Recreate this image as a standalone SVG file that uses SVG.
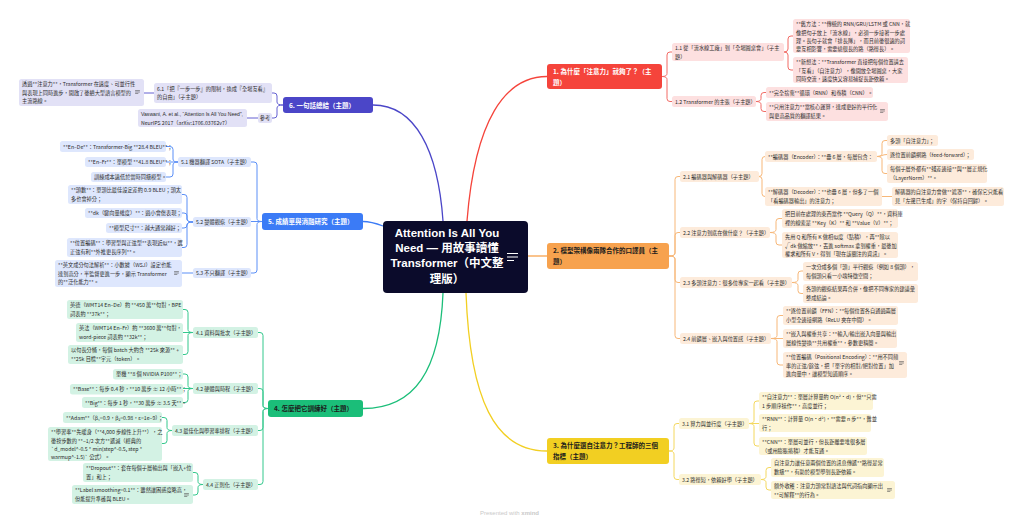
<svg xmlns="http://www.w3.org/2000/svg" width="1024" height="524" viewBox="0 0 1024 524">
<style>
.t{font-family:"Noto Sans CJK TC","Noto Sans",sans-serif;font-size:5.2px;fill:#2b2b2b}
.tl{font-family:"Liberation Sans","Noto Sans CJK TC",sans-serif;font-size:5.2px;fill:#2b2b2b}
.mt{font-family:"Noto Sans CJK TC","Noto Sans",sans-serif;font-size:6.5px;font-weight:700}
.ct{font-family:"Liberation Sans","Noto Sans CJK TC",sans-serif;font-size:11.5px;font-weight:600;fill:#fff;text-anchor:middle}
.w{fill:#fff}.d{fill:#1c1c1c}
.m1{fill:#F5443B}.m2{fill:#F7A24E}.m3{fill:#F2CF22}.m4{fill:#1BBE79}.m5{fill:#3B7BF6}.m6{fill:#4B46C8}
.b1{fill:#FDE0E0}.b2{fill:#FDEBDB}.b3{fill:#FCF4D4}.b4{fill:#D3F2E4}.b5{fill:#DEE7FD}.b6{fill:#E2E1F6}
.c{fill:none;stroke-width:1}
.c1{stroke:#F26B65}.c2{stroke:#F7B778}.c3{stroke:#F4D85E}.c4{stroke:#33C88C}.c5{stroke:#5B8FF7}.c6{stroke:#6461D2}
.mc{fill:none;stroke-width:1.3}
.foot{font-family:"Liberation Sans",sans-serif;font-size:6px;fill:#c9c9c9}
</style>
<defs>
<symbol id="note" viewBox="0 0 6 5"><path d="M0 0.5H6M0 2.5H6M0 4.5H4" stroke="#555" stroke-width="0.8" fill="none"/></symbol>
</defs>
<rect width="1024" height="524" fill="#fff"/>

<g id="connectors">
<path class="mc" stroke="#F5443B" d="M467,221 C475,120 505,76.5 547,76.5"/>
<path class="mc" stroke="#F7A24E" d="M528,256 H547"/>
<path class="mc" stroke="#F2CF22" d="M466,293 C470,400 495,451 547,451"/>
<path class="mc" stroke="#1BBE79" d="M443,293 C440,370 415,408.5 363,408.5"/>
<path class="mc" stroke="#3B7BF6" d="M383,226 C375,223 370,221.5 363,221.5"/>
<path class="mc" stroke="#4B46C8" d="M443,221 C438,150 415,105 373,105"/>

<g class="c c1">
<path d="M662,76.5 Q667,76.5 667,73.5 V55 Q667,52 670,52 H672"/>
<path d="M662,76.5 Q667,76.5 667,79.5 V98.5 Q667,101.5 670,101.5 H672"/>
<path d="M784,52 Q788,52 788,49 V39 Q788,36 791,36 H793"/>
<path d="M784,52 Q788,52 788,55 V67 Q788,70 791,70 H793"/>
<path d="M756,101.5 Q761,101.5 761,98.5 V95.5 Q761,92.5 764,92.5 H766"/>
<path d="M756,101.5 Q761,101.5 761,104.5 V108.5 Q761,111.5 764,111.5 H766"/>
</g>
<g class="c c2">
<path d="M669,256 Q675,256 675,253 V179.5 Q675,176.5 678,176.5 H680"/>
<path d="M669,256 Q675,256 675,253 V235.5 Q675,232.5 678,232.5 H680"/>
<path d="M669,256 Q675,256 675,259 V279.5 Q675,282.5 678,282.5 H680"/>
<path d="M669,256 Q675,256 675,259 V335.5 Q675,338.5 678,338.5 H680"/>
<path d="M759,176.5 Q762,176.5 762,173.5 V159.5 Q762,156.5 765,156.5"/>
<path d="M759,176.5 Q762,176.5 762,179.5 V193.5 Q762,196.5 765,196.5"/>
<path d="M877,156.5 Q882,156.5 882,153.5 V143.5 Q882,140.5 885,140.5 H887"/>
<path d="M877,156.5 C882,156.5 882,154.5 887,154.5"/>
<path d="M877,156.5 Q882,156.5 882,159.5 V170.5 Q882,173.5 885,173.5 H887"/>
<path d="M882,196.5 H892"/>
<path d="M770,232.5 Q776,232.5 776,229.5 V221.5 Q776,218.5 779,218.5 H782"/>
<path d="M770,232.5 Q776,232.5 776,235.5 V242 Q776,245 779,245 H782"/>
<path d="M792,282.5 Q798,282.5 798,279.5 V274 Q798,271 801,271 H803"/>
<path d="M792,282.5 Q798,282.5 798,285.5 V290.5 Q798,293.5 801,293.5 H803"/>
<path d="M771,338.5 Q777,338.5 777,335.5 V318.5 Q777,315.5 780,315.5 H783"/>
<path d="M771,338.5 H783"/>
<path d="M771,338.5 Q777,338.5 777,341.5 V362 Q777,365 780,365 H783"/>
</g>
<g class="c c3">
<path d="M669,451 Q674,451 674,448 V426.5 Q674,423.5 677,423.5 H679"/>
<path d="M669,451 Q674,451 674,454 V476.5 Q674,479.5 677,479.5 H679"/>
<path d="M749,423.5 Q754,423.5 754,420.5 V404 Q754,401 757,401 H759"/>
<path d="M749,423.5 H759"/>
<path d="M749,423.5 Q754,423.5 754,426.5 V443 Q754,446 757,446 H759"/>
<path d="M761,479.5 Q766,479.5 766,476.5 V470.5 Q766,467.5 769,467.5 H771"/>
<path d="M761,479.5 Q766,479.5 766,482.5 V487 Q766,490 769,490 H771"/>
</g>
<g class="c c4">
<path d="M268,408.5 Q263,408.5 263,405.5 V335.5 Q263,332.5 260,332.5 H258"/>
<path d="M268,408.5 Q263,408.5 263,405.5 V391.5 Q263,388.5 260,388.5 H258"/>
<path d="M268,408.5 Q263,408.5 263,411.5 V427.5 Q263,430.5 260,430.5 H258"/>
<path d="M268,408.5 Q263,408.5 263,411.5 V481.5 Q263,484.5 260,484.5 H258"/>
<path d="M193,332.5 Q188,332.5 188,329.5 V312.5 Q188,309.5 185,309.5 H183"/>
<path d="M193,332.5 H183"/>
<path d="M193,332.5 Q188,332.5 188,335.5 V351.5 Q188,354.5 185,354.5 H183"/>
<path d="M193,388.5 Q188,388.5 188,385.5 V377 Q188,374 185,374 H183"/>
<path d="M193,388.5 H183"/>
<path d="M193,388.5 Q188,388.5 188,391.5 V399.5 Q188,402.5 185,402.5 H183"/>
<path d="M172,430.5 Q167,430.5 167,427.5 V420.5 Q167,417.5 164,417.5 H162"/>
<path d="M172,430.5 Q167,430.5 167,433.5 V440.5 Q167,443.5 164,443.5 H162"/>
<path d="M203,484.5 Q198,484.5 198,481.5 V475.5 Q198,472.5 195,472.5 H193"/>
<path d="M203,484.5 Q198,484.5 198,487.5 V492 Q198,495 195,495 H193"/>
</g>
<g class="c c5">
<path d="M262,221.5 Q257,221.5 257,218.5 V165 Q257,162 254,162 H251"/>
<path d="M262,221.5 H251"/>
<path d="M262,221.5 Q257,221.5 257,224.5 V270 Q257,273 254,273 H251"/>
<path d="M178,162 Q173,162 173,159 V149.5 Q173,146.5 170,146.5 H166"/>
<path d="M178,162 H166"/>
<path d="M178,162 Q173,162 173,165 V174 Q173,177 170,177 H166"/>
<path d="M193,222 Q187,222 187,219 V197.5 Q187,194.5 184,194.5 H182"/>
<path d="M193,222 Q187,222 187,219 V216 Q187,213 184,213 H182"/>
<path d="M193,222 Q187,222 187,225 Q187,228 184,228 H182"/>
<path d="M193,222 Q187,222 187,225 V244.5 Q187,247.5 184,247.5 H182"/>
<path d="M193,273 H182"/>
</g>
<g class="c c6">
<path d="M283,105 Q277,105 277,102 V96 Q277,93 274,93 H272"/>
<path d="M283,105 Q277,105 277,108 V115 Q277,118 274,118 H272"/>
<path d="M154,93 H144"/>
<path d="M258,118 H247"/>
</g>
</g>

<g id="central">
<rect x="383" y="221" width="145" height="72" rx="4" fill="#0B0B2B"/>
<text class="ct" x="447" y="237">Attention Is All You</text>
<text class="ct" x="447" y="252">Need — 用故事讀懂</text>
<text class="ct" x="447" y="267">Transformer（中文整</text>
<text class="ct" x="447" y="282.5">理版）</text>
<path d="M507,253.5H518M507,257H518M507,260.5H514" stroke="#fff" stroke-width="1.1" fill="none"/>
</g>

<!-- Section 1 -->
<g id="n1"><rect class="m1" x="547" y="64" width="115" height="25" rx="3"/>
<text class="mt w" x="553" y="74">1. 為什麼「注意力」就夠了？（主<tspan x="553" dy="10.5">題）</tspan></text></g>
<g id="n1-1"><rect class="b1" x="672" y="43" width="112" height="18" rx="2.5"/>
<text class="t" x="675" y="50.3">1.1 從「流水線工廠」到「全場圓桌會」（子主<tspan x="675" dy="8.2">題）</tspan></text></g>
<g id="n1-1a"><rect class="b1" x="793" y="19" width="117" height="34" rx="2.5"/>
<text class="t" x="796" y="26.3">**舊方法：**傳統的 RNN/GRU/LSTM 或 CNN，就<tspan x="796" dy="8.2">像把句子放上「流水線」，必須一步接著一步處</tspan><tspan x="796" dy="8.2">理。長句子就會「排長隊」，而且前後很遠的詞</tspan><tspan x="796" dy="8.2">要互相影響，需要繞很長的路（路徑長）。</tspan></text></g>
<g id="n1-1b"><rect class="b1" x="793" y="57" width="115" height="26" rx="2.5"/>
<text class="t" x="796" y="64.3">**新想法：**Transformer 直接把每個位置請去<tspan x="796" dy="8.2">「互看」（自注意力），像開放全場圓桌，大家</tspan><tspan x="796" dy="8.2">同時交流，速度快又容易捕捉長距依賴。</tspan></text></g>
<g id="n1-2"><rect class="b1" x="672" y="96" width="84" height="11" rx="2.5"/>
<text class="t" x="675" y="103.5">1.2 Transformer 的主張（子主題）</text></g>
<g id="n1-2a"><rect class="b1" x="766" y="87" width="107" height="11" rx="2.5"/>
<text class="t" x="769" y="94.5">**完全捨棄**循環（RNN）和卷積（CNN）。</text></g>
<g id="n1-2b"><rect class="b1" x="766" y="102" width="122" height="19" rx="2.5"/>
<text class="t" x="769" y="109.3">**只用注意力**當核心運算，達成更好的平行化<tspan x="769" dy="8.2">與更高品質的翻譯結果。</tspan></text>
<use href="#note" x="880" y="109" width="5" height="4"/></g>

<!-- Section 2 -->
<g id="n2"><rect class="m2" x="547" y="243" width="122" height="26" rx="3"/>
<text class="mt d" x="553" y="253">2. 模型架構像兩隊合作的口譯員（主<tspan x="553" dy="10.5">題）</tspan></text></g>
<g id="n2-1"><rect class="b2" x="680" y="171" width="79" height="11" rx="2.5"/>
<text class="t" x="683" y="178.5">2.1 編碼器與解碼器（子主題）</text></g>
<g id="n2-1a"><rect class="b2" x="765" y="151" width="112" height="11" rx="2.5"/>
<text class="t" x="768" y="158.5">**編碼器（Encoder）：**疊 6 層，每層包含：</text></g>
<g id="n2-1a1"><rect class="b2" x="887" y="135" width="51" height="11" rx="2.5"/>
<text class="t" x="890" y="142.5">多頭「自注意力」；</text></g>
<g id="n2-1a2"><rect class="b2" x="887" y="149" width="87" height="11" rx="2.5"/>
<text class="t" x="890" y="156.5">逐位置前饋網路（feed-forward）；</text></g>
<g id="n2-1a3"><rect class="b2" x="887" y="164" width="100" height="19" rx="2.5"/>
<text class="t" x="890" y="171.3">每個子層外都有**殘差連接**與**層正規化<tspan x="890" dy="8.2">（LayerNorm）**。</tspan></text></g>
<g id="n2-1b"><rect class="b2" x="765" y="187" width="117" height="19" rx="2.5"/>
<text class="t" x="768" y="194.3">**解碼器（Decoder）：**也疊 6 層，但多了一個<tspan x="768" dy="8.2">「看編碼器輸出」的注意力；</tspan></text></g>
<g id="n2-1b1"><rect class="b2" x="892" y="187" width="112" height="19" rx="2.5"/>
<text class="t" x="895" y="194.3">解碼器的自注意力會做**遮罩**，確保它只能看<tspan x="895" dy="8.2">見「左邊已生成」的字（保持自回歸）。</tspan></text></g>
<g id="n2-2"><rect class="b2" x="680" y="227" width="90" height="11" rx="2.5"/>
<text class="t" x="683" y="234.5">2.2 注意力到底在做什麼？（子主題）</text></g>
<g id="n2-2a"><rect class="b2" x="782" y="209" width="116" height="19" rx="2.5"/>
<text class="t" x="785" y="216.3">把目前在處理的東西當作 **Query（Q）**，資料庫<tspan x="785" dy="8.2">裡的線索是 **Key（K）** 和 **Value（V）**；</tspan></text></g>
<g id="n2-2b"><rect class="b2" x="782" y="232" width="116" height="26" rx="2.5"/>
<text class="t" x="785" y="239.3">先用 Q 和所有 K 做相似度（點積），再**除以<tspan x="785" dy="8.2">√dk 做縮放**，丟進 softmax 拿到權重，最後加</tspan><tspan x="785" dy="8.2">權求和所有 V，得到「現在該關注的資訊」。</tspan></text></g>
<g id="n2-3"><rect class="b2" x="680" y="277" width="112" height="11" rx="2.5"/>
<text class="t" x="683" y="284.5">2.3 多頭注意力：很多位專家一起看（子主題）</text></g>
<g id="n2-3a"><rect class="b2" x="803" y="262" width="115" height="19" rx="2.5"/>
<text class="t" x="806" y="269.3">一次分成多個「頭」平行觀察（例如 8 個頭），<tspan x="806" dy="8.2">每個頭只看一小塊特徵空間；</tspan></text></g>
<g id="n2-3b"><rect class="b2" x="803" y="284" width="115" height="19" rx="2.5"/>
<text class="t" x="806" y="291.3">各頭的觀察結果再合併，像把不同專家的建議彙<tspan x="806" dy="8.2">整成結論。</tspan></text></g>
<g id="n2-4"><rect class="b2" x="680" y="333" width="91" height="11" rx="2.5"/>
<text class="t" x="683" y="340.5">2.4 前饋層、嵌入與位置感（子主題）</text></g>
<g id="n2-4a"><rect class="b2" x="783" y="306" width="115" height="19" rx="2.5"/>
<text class="t" x="786" y="313.3">**逐位置前饋（FFN）：**每個位置各自通過兩層<tspan x="786" dy="8.2">小型全連接網路（ReLU 夾在中間）。</tspan></text></g>
<g id="n2-4b"><rect class="b2" x="783" y="329" width="114" height="19" rx="2.5"/>
<text class="t" x="786" y="336.3">**嵌入與權重共享：**輸入/輸出嵌入向量與輸出<tspan x="786" dy="8.2">層線性變換**共用權重**，參數更精簡。</tspan></text></g>
<g id="n2-4c"><rect class="b2" x="783" y="352" width="124" height="26" rx="2.5"/>
<text class="t" x="786" y="359.3">**位置編碼（Positional Encoding）：**用不同頻<tspan x="786" dy="8.2">率的正弦/餘弦，把「單字的相對/絕對位置」加</tspan><tspan x="786" dy="8.2">進向量中，讓模型知道順序。</tspan></text>
<use href="#note" x="899" y="361" width="5" height="4"/></g>

<!-- Section 3 -->
<g id="n3"><rect class="m3" x="547" y="438" width="122" height="26" rx="3"/>
<text class="mt d" x="553" y="448">3. 為什麼選自注意力？工程師的三個<tspan x="553" dy="10.5">指標（主題）</tspan></text></g>
<g id="n3-1"><rect class="b3" x="679" y="418" width="70" height="11" rx="2.5"/>
<text class="t" x="682" y="425.5">3.1 算力與並行度（子主題）</text></g>
<g id="n3-1a"><rect class="b3" x="759" y="392" width="114" height="18" rx="2.5"/>
<text class="t" x="762" y="399.3">**自注意力**：單層計算量約 O(n²·d)，但**只需<tspan x="762" dy="8.2">1 步順序操作**，高度並行；</tspan></text></g>
<g id="n3-1b"><rect class="b3" x="759" y="414" width="112" height="18" rx="2.5"/>
<text class="t" x="762" y="421.3">**RNN**：計算量 O(n·d²)，**需要 n 步**，難並<tspan x="762" dy="8.2">行；</tspan></text></g>
<g id="n3-1c"><rect class="b3" x="759" y="437" width="108" height="18" rx="2.5"/>
<text class="t" x="762" y="444.3">**CNN**：單層可並行，但長距離要堆很多層<tspan x="762" dy="8.2">（或用膨脹捲積）才能互通。</tspan></text></g>
<g id="n3-2"><rect class="b3" x="679" y="474" width="82" height="11" rx="2.5"/>
<text class="t" x="682" y="481.5">3.2 路徑短，依賴好學（子主題）</text></g>
<g id="n3-2a"><rect class="b3" x="771" y="458" width="113" height="19" rx="2.5"/>
<text class="t" x="774" y="465.3">自注意力讓任意兩個位置的訊息傳遞**路徑是常<tspan x="774" dy="8.2">數級**，有助於模型學到長距依賴。</tspan></text></g>
<g id="n3-2b"><rect class="b3" x="771" y="481" width="124" height="18" rx="2.5"/>
<text class="t" x="774" y="488.3">額外收穫：注意力頭常對語法與代詞指向顯示出<tspan x="774" dy="8.2">**可解釋**的行為。</tspan></text>
<use href="#note" x="887" y="488" width="5" height="4"/></g>

<!-- Section 4 -->
<g id="n4"><rect class="m4" x="268" y="400" width="95" height="17" rx="3"/>
<text class="mt d" x="274" y="411">4. 怎麼把它訓練好（主題）</text></g>
<g id="n4-1"><rect class="b4" x="193" y="327" width="65" height="11" rx="2.5"/>
<text class="t" x="196" y="334.5">4.1 資料與批次（子主題）</text></g>
<g id="n4-1a"><rect class="b4" x="67" y="300" width="116" height="19" rx="2.5"/>
<text class="t" x="70" y="307.3">英德（WMT14 En–De）約 **450 萬**句對，BPE<tspan x="70" dy="8.2">詞表約 **37k**；</tspan></text></g>
<g id="n4-1b"><rect class="b4" x="76" y="323" width="107" height="19" rx="2.5"/>
<text class="t" x="79" y="330.3">英法（WMT14 En–Fr）約 **3600 萬**句對，<tspan x="79" dy="8.2">word-piece 詞表約 **32k**；</tspan></text></g>
<g id="n4-1c"><rect class="b4" x="68" y="345" width="115" height="19" rx="2.5"/>
<text class="t" x="71" y="352.3">以句長分桶，每個 batch 大約含 **25k 來源** +<tspan x="71" dy="8.2">**25k 目標**字元（token）。</tspan></text></g>
<g id="n4-2"><rect class="b4" x="193" y="383" width="65" height="11" rx="2.5"/>
<text class="t" x="196" y="390.5">4.2 硬體與時程（子主題）</text></g>
<g id="n4-2a"><rect class="b4" x="113" y="369" width="70" height="10.5" rx="2.5"/>
<text class="t" x="116" y="376.2">單機 **8 個 NVIDIA P100**；</text></g>
<g id="n4-2b"><rect class="b4" x="70" y="384" width="113" height="10.5" rx="2.5"/>
<text class="t" x="73" y="391.2">**Base**：每步 0.4 秒，**10 萬步 ≈ 12 小時**；</text></g>
<g id="n4-2c"><rect class="b4" x="82" y="397" width="101" height="11" rx="2.5"/>
<text class="t" x="85" y="404.5">**Big**：每步 1 秒，**30 萬步 ≈ 3.5 天**。</text></g>
<g id="n4-3"><rect class="b4" x="172" y="425" width="86" height="11" rx="2.5"/>
<text class="t" x="175" y="432.5">4.3 最佳化與學習率排程（子主題）</text></g>
<g id="n4-3a"><rect class="b4" x="63" y="412" width="99" height="11" rx="2.5"/>
<text class="t" x="66" y="419.5">**Adam**（β₁=0.9，β₂=0.98，ε=1e−9）；</text></g>
<g id="n4-3b"><rect class="b4" x="48" y="427" width="114" height="34" rx="2.5"/>
<text class="t" x="51" y="434.3">**學習率**先暖身（**4,000 步線性上升**），之<tspan x="51" dy="8.2">後按步數的 **−1/2 次方**遞減（經典的</tspan><tspan x="51" dy="8.2">`d_model^-0.5 * min(step^-0.5, step *</tspan><tspan x="51" dy="8.2">warmup^-1.5)` 公式）。</tspan></text></g>
<g id="n4-4"><rect class="b4" x="203" y="479" width="55" height="11" rx="2.5"/>
<text class="t" x="206" y="486.5">4.4 正則化（子主題）</text></g>
<g id="n4-4a"><rect class="b4" x="83" y="463" width="110" height="19" rx="2.5"/>
<text class="t" x="86" y="470.3">**Dropout**：套在每個子層輸出與「嵌入+位<tspan x="86" dy="8.2">置」和上；</tspan></text></g>
<g id="n4-4b"><rect class="b4" x="72" y="485" width="121" height="19" rx="2.5"/>
<text class="t" x="75" y="492.3">**Label smoothing=0.1**：雖然讓困惑度略高，<tspan x="75" dy="8.2">但能提升準確與 BLEU。</tspan></text>
<use href="#note" x="184" y="493" width="5" height="4"/></g>

<!-- Section 5 -->
<g id="n5"><rect class="m5" x="262" y="213" width="101" height="17" rx="3"/>
<text class="mt w" x="268" y="224">5. 成績單與消融研究（主題）</text></g>
<g id="n5-1"><rect class="b5" x="178" y="157" width="73" height="10" rx="2.5"/>
<text class="t" x="181" y="164">5.1 機器翻譯 SOTA（子主題）</text></g>
<g id="n5-1a"><rect class="b5" x="60" y="141" width="106" height="11" rx="2.5"/>
<text class="t" x="63" y="148.5">**En–De**：Transformer-Big **28.4 BLEU**；</text></g>
<g id="n5-1b"><rect class="b5" x="85" y="157" width="81" height="10" rx="2.5"/>
<text class="t" x="88" y="164">**En–Fr**：單模型 **41.8 BLEU**；</text></g>
<g id="n5-1c"><rect class="b5" x="91" y="172" width="75" height="10" rx="2.5"/>
<text class="t" x="94" y="179">訓練成本遠低於當時同級模型。</text></g>
<g id="n5-2"><rect class="b5" x="193" y="217" width="58" height="10" rx="2.5"/>
<text class="t" x="196" y="224">5.2 變體觀察（子主題）</text></g>
<g id="n5-2a"><rect class="b5" x="68" y="185" width="114" height="19" rx="2.5"/>
<text class="t" x="71" y="192.3">**頭數**：單頭比最佳設定差約 0.9 BLEU；頭太<tspan x="71" dy="8.2">多也會掉分；</tspan></text></g>
<g id="n5-2b"><rect class="b5" x="85" y="208" width="97" height="10" rx="2.5"/>
<text class="t" x="88" y="215">**dk（鍵向量維度）**：過小會傷表現；</text></g>
<g id="n5-2c"><rect class="b5" x="106" y="223" width="76" height="10" rx="2.5"/>
<text class="t" x="109" y="230">**模型尺寸**：越大通常越好；</text></g>
<g id="n5-2d"><rect class="b5" x="67" y="238" width="115" height="19" rx="2.5"/>
<text class="t" x="70" y="245.3">**位置編碼**：學習型與正弦型**表現近似**，選<tspan x="70" dy="8.2">正弦有利**外推更長序列**。</tspan></text></g>
<g id="n5-3"><rect class="b5" x="193" y="268" width="58" height="10" rx="2.5"/>
<text class="t" x="196" y="275">5.3 不只翻譯（子主題）</text></g>
<g id="n5-3a"><rect class="b5" x="55" y="260" width="127" height="27" rx="2.5"/>
<text class="t" x="58" y="267.3">**英文成分句法解析**：小數據（WSJ）設定也能<tspan x="58" dy="8.2">達到高分，半監督更進一步，顯示 Transformer</tspan><tspan x="58" dy="8.2">的**泛化能力**。</tspan></text>
<use href="#note" x="174" y="271" width="5" height="4"/></g>

<!-- Section 6 -->
<g id="n6"><rect class="m6" x="283" y="97" width="90" height="16" rx="3"/>
<text class="mt w" x="289" y="107.5">6. 一句話總結（主題）</text></g>
<g id="n6-1"><rect class="b6" x="154" y="83" width="118" height="20" rx="2.5"/>
<text class="t" x="157" y="90.5">6.1「把『一步一步』的限制，換成『全場互看』<tspan x="157" dy="8.2">的自由」（子主題）</tspan></text></g>
<g id="n6-1a"><rect class="b6" x="19" y="79" width="125" height="27" rx="2.5"/>
<text class="t" x="22" y="86.3">透過**注意力**，Transformer 在速度、可並行性<tspan x="22" dy="8.2">與表現上同時進步，開啟了後續大型語言模型的</tspan><tspan x="22" dy="8.2">主流路線。</tspan></text>
<use href="#note" x="135" y="90" width="5" height="4"/></g>
<g id="n6-2"><rect class="b6" x="258" y="113" width="14" height="10" rx="2.5"/>
<text class="t" x="265" y="120" text-anchor="middle">參考</text></g>
<g id="n6-2a"><rect class="b6" x="138" y="109" width="109" height="18" rx="2.5"/>
<text class="tl" x="141" y="116.3" textLength="102" lengthAdjust="spacingAndGlyphs">Vaswani, A. et al., “Attention Is All You Need”,</text>
<text class="t" x="141" y="124.5">NeurIPS 2017（arXiv:1706.03762v7）</text></g>

<text class="foot" x="480" y="515">Presented with <tspan font-weight="700">xmind</tspan></text>
</svg>
